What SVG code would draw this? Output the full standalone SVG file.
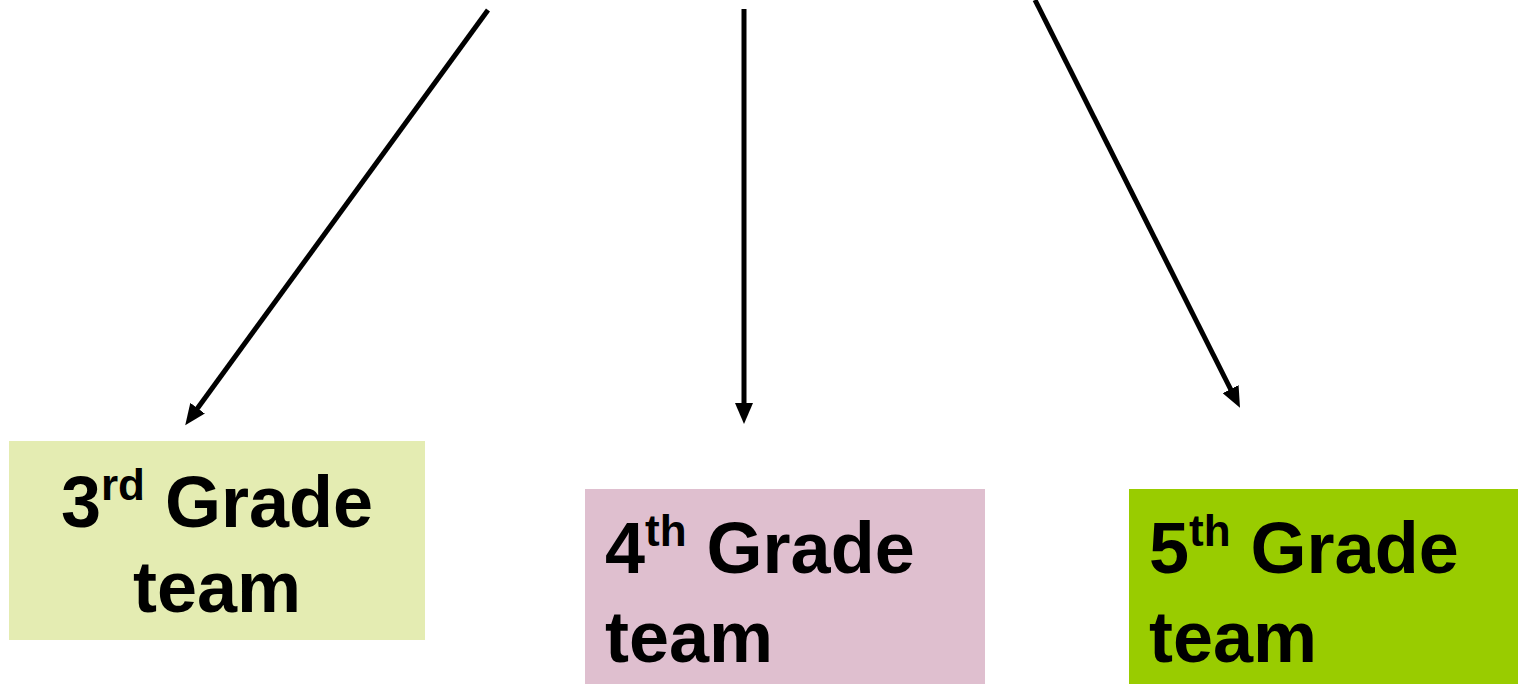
<svg xmlns="http://www.w3.org/2000/svg" width="1518" height="684" viewBox="0 0 1518 684">
<style>
.lbl{font-family:"Liberation Sans",Arial,sans-serif;font-weight:bold;font-size:72px;fill:#000}
.sup{font-size:44px}
.conn{stroke:#000;stroke-width:5;fill:none}
</style>
<defs>
<marker id="ah" markerUnits="userSpaceOnUse" markerWidth="22" markerHeight="18" refX="1" refY="9" orient="auto" viewBox="0 0 22 18">
<path d="M0,0 L21,9 L0,18 Z" fill="#000"/>
</marker>
</defs>
<g id="connectors">
<line class="conn" x1="488" y1="10" x2="197" y2="409" marker-end="url(#ah)"/>
<line class="conn" x1="744" y1="9" x2="744" y2="404" marker-end="url(#ah)"/>
<line class="conn" x1="1035" y1="0" x2="1231" y2="390" marker-end="url(#ah)"/>
</g>
<g id="node-3rd">
<rect x="9" y="441" width="416" height="199" fill="#e4ecb2"/>
<text class="lbl" text-anchor="middle" x="217" y="527">3<tspan class="sup" dy="-27">rd</tspan><tspan dy="27"> Grade</tspan></text>
<text class="lbl" text-anchor="middle" x="217" y="612">team</text>
</g>
<g id="node-4th">
<rect x="585" y="489" width="400" height="195" fill="#dfbfcf"/>
<text class="lbl" x="605" y="573">4<tspan class="sup" dy="-27">th</tspan><tspan dy="27"> Grade</tspan></text>
<text class="lbl" x="605" y="662">team</text>
</g>
<g id="node-5th">
<rect x="1129" y="489" width="389" height="195" fill="#99cc00"/>
<text class="lbl" x="1149" y="573">5<tspan class="sup" dy="-27">th</tspan><tspan dy="27"> Grade</tspan></text>
<text class="lbl" x="1149" y="662">team</text>
</g>
</svg>
